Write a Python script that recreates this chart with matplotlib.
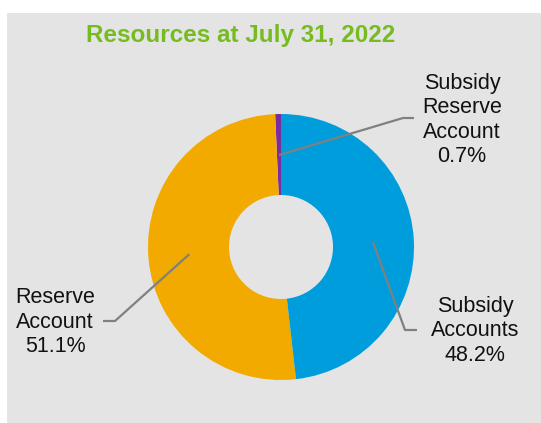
import numpy as np
import matplotlib
matplotlib.use("Agg")
import matplotlib.pyplot as plt
from matplotlib.patches import Rectangle

plt.rcParams['font.family'] = ['Liberation Sans', 'DejaVu Sans']

title = "Resources at July 31, 2022"
categories = ["Subsidy\nReserve\nAccount", "Reserve\nAccount", "Subsidy\nAccounts"]
values = [0.7, 51.1, 48.2]
colors = ["#7b2c9e", "#f2aa00", "#009ddc"]

W, H = 541, 423
fig = plt.figure(figsize=(W / 100, H / 100), dpi=100)
fig.patch.set_facecolor("white")
fig.patches.append(Rectangle((7 / W, 0), 1, (H - 13) / H, transform=fig.transFigure,
                             facecolor="#e4e4e4", edgecolor="none", zorder=0))

ax = fig.add_axes([0, 0, 1, 1])
ax.set_zorder(2)
ax.set_xlim(0, W)
ax.set_ylim(0, H)
ax.set_aspect("equal")
ax.axis("off")
ax.patch.set_alpha(0)

cx, cy = 281, H - 247
R_out, R_in = 133, 52
wedges, _ = ax.pie(values, colors=colors, startangle=90, counterclock=True,
                   center=(cx, cy), radius=R_out,
                   wedgeprops=dict(width=R_out - R_in, edgecolor="none"))
ax.set_xlim(0, W)
ax.set_ylim(0, H)
ax.axis("off")

# label layout: (elbow x, elbow y, end x, text x, text y center)
layout = [
    (403, 118, 414, 462, 120),
    (115, 321, 103, 55, 322),
    (405, 330, 417, 475, 331),
]
anchor_r = 92
for w, cat, val, (ex, ey, endx, tx, ty) in zip(wedges, categories, values, layout):
    mid = np.deg2rad((w.theta1 + w.theta2) / 2)
    ax_x = cx + anchor_r * np.cos(mid)
    ax_y = cy + anchor_r * np.sin(mid)
    ax.plot([ax_x, ex, endx], [ax_y, H - ey, H - ey], color="#808080", lw=1.6,
            solid_capstyle="butt", zorder=5)
    ax.text(tx, H - ty, f"{cat}\n{val:.1f}%", ha="center", va="center",
            fontsize=15.5, color="#111111", linespacing=1.22)

ax.text(241, H - 35, title, ha="center", va="center", fontsize=17.5,
        fontweight="bold", color="#76bc21")

fig.savefig("out.png", dpi=100)
